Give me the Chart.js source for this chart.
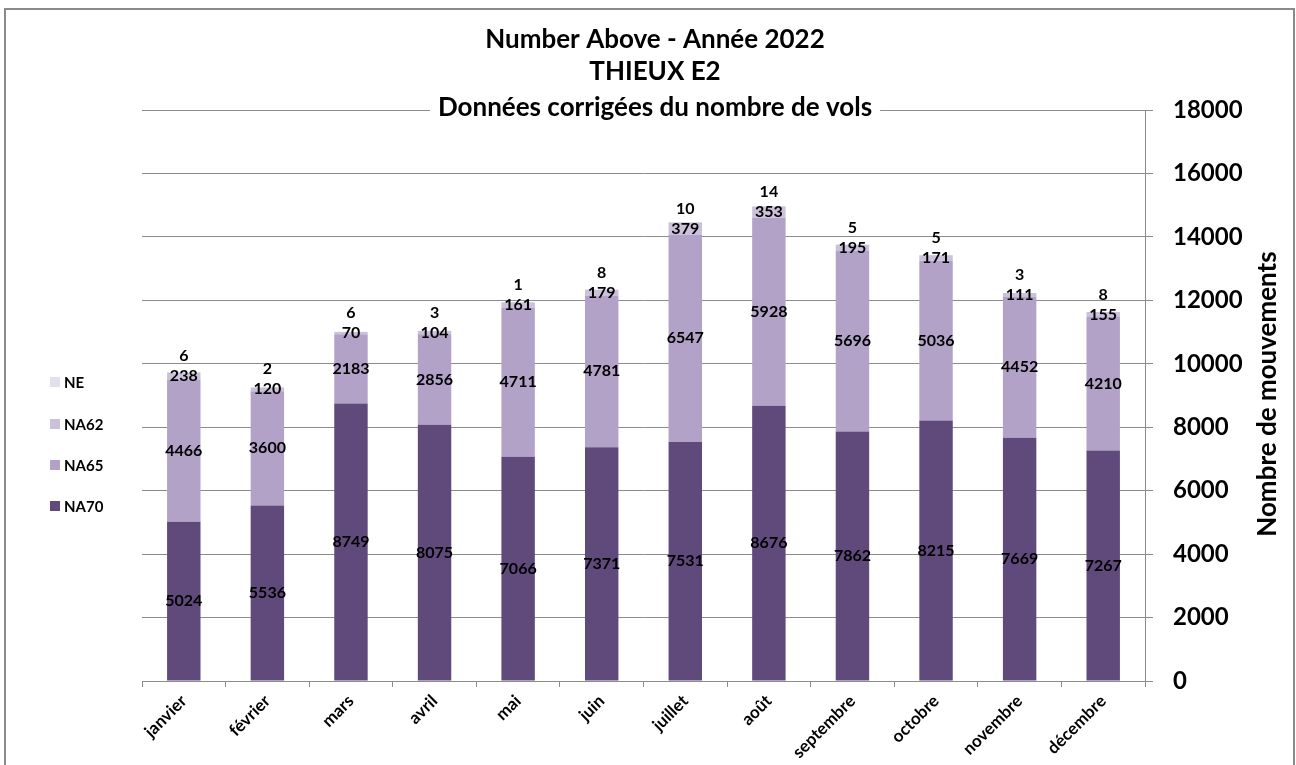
<!DOCTYPE html>
<html><head><meta charset="utf-8">
<script src="https://cdn.jsdelivr.net/npm/chart.js@4/dist/chart.umd.min.js"></script>
<style>html,body{margin:0;padding:0;background:#fff}#wrap{width:1296px;height:765px;position:relative}canvas{display:block}</style>
</head><body><div id="wrap"><canvas id="c" width="1296" height="765"></canvas></div>
<script>
const months = ['janvier','février','mars','avril','mai','juin','juillet','août','septembre','octobre','novembre','décembre'];
const NA70 = [5024, 5536, 8749, 8075, 7066, 7371, 7531, 8676, 7862, 8215, 7669, 7267];
const NA65 = [4466, 3600, 2183, 2856, 4711, 4781, 6547, 5928, 5696, 5036, 4452, 4210];
const NA62 = [238, 120, 70, 104, 161, 179, 379, 353, 195, 171, 111, 155];
const NE = [6, 2, 6, 3, 1, 8, 10, 14, 5, 5, 3, 8];
const titleLines = ['Number Above - Année 2022', 'THIEUX E2', 'Données corrigées du nombre de vols'];
const yAxisTitle = 'Nombre de mouvements';
const yMin = 0, yMax = 18000, yStep = 2000;

const FONT = 'Lato, "Open Sans", sans-serif';
const colors = {NA70:'#5f4a7b', NA65:'#b3a2c7', NA62:'#ccc1da', NE:'#e4dfec'};
const legendOrder = ['NE','NA62','NA65','NA70'];
const gridColor = '#8c8c8c';

const decor = {
  id:'decor',
  beforeDraw(chart){
    const ctx = chart.ctx;
    ctx.save();
    ctx.fillStyle = '#fff';
    ctx.fillRect(0,0,chart.width,chart.height);
    ctx.strokeStyle = '#8a8a8a';
    ctx.lineWidth = 2;
    ctx.strokeRect(5, 9, 1289, 800);
    ctx.restore();
  },
  afterDatasetsDraw(chart){
    const ctx = chart.ctx;
    ctx.save();
    ctx.fillStyle = '#000';
    ctx.font = 'bold 16px ' + FONT;
    ctx.textAlign = 'center';
    ctx.textBaseline = 'middle';
    const na62Centers = [];
    chart.data.datasets.forEach((ds, di) => {
      const meta = chart.getDatasetMeta(di);
      meta.data.forEach((bar, i) => {
        const v = ds.data[i];
        let y;
        if (ds.label === 'NE') {
          y = na62Centers[i] - 20;
        } else {
          y = (bar.y + bar.base) / 2;
          if (ds.label === 'NA62') na62Centers[i] = y;
        }
        ctx.fillText(String(v), bar.x, y);
      });
    });
    ctx.restore();
  },
  afterDraw(chart){
    const ctx = chart.ctx;
    ctx.save();
    ctx.font = 'bold 26px ' + FONT;
    ctx.textAlign = 'center';
    ctx.textBaseline = 'middle';
    const ys = [40, 72, 108];
    const cx = 655;
    titleLines.forEach((t, i) => {
      if (i === 2) {
        const w = ctx.measureText(t).width;
        ctx.fillStyle = '#fff';
        ctx.fillRect(cx - w/2 - 8, ys[i] - 15, w + 16, 30);
      }
      ctx.fillStyle = '#000';
      ctx.fillText(t, cx, ys[i]);
    });
    ctx.save();
    ctx.translate(1268, 394);
    ctx.rotate(-Math.PI/2);
    ctx.fillText(yAxisTitle, 0, 0);
    ctx.restore();
    ctx.font = 'bold 15px ' + FONT;
    ctx.textAlign = 'left';
    const ly = [382, 424, 465, 506];
    legendOrder.forEach((name, i) => {
      ctx.fillStyle = colors[name];
      ctx.fillRect(50, ly[i] - 5, 10, 10);
      ctx.fillStyle = '#000';
      ctx.fillText(name, 64, ly[i] + 1);
    });
    ctx.restore();
  }
};

new Chart(document.getElementById('c'), {
  type: 'bar',
  data: {
    labels: months,
    datasets: [
      {label:'NA70', data:NA70, backgroundColor:colors.NA70},
      {label:'NA65', data:NA65, backgroundColor:colors.NA65},
      {label:'NA62', data:NA62, backgroundColor:colors.NA62},
      {label:'NE', data:NE, backgroundColor:colors.NE}
    ]
  },
  options: {
    responsive: false,
    animation: false,
    devicePixelRatio: 1,
    layout: {padding: {left:142, top:110, right:0, bottom:0}},
    datasets: {bar: {barPercentage:0.4, categoryPercentage:1, borderWidth:0}},
    plugins: {legend:{display:false}, title:{display:false}, tooltip:{enabled:false}},
    scales: {
      x: {
        stacked: true,
        grid: {display:true, drawOnChartArea:false, offset:true, tickLength:6, color:gridColor},
        border: {display:true, color:gridColor, width:1},
        ticks: {maxRotation:45, minRotation:45, color:'#000', padding:4, font:{family:FONT, size:17, weight:'bold'}},
        afterFit(s){ s.height = 84; }
      },
      y: {
        stacked: true,
        position: 'right',
        min: yMin, max: yMax,
        grid: {color:gridColor, tickLength:8},
        border: {display:true, color:gridColor, width:1},
        ticks: {stepSize:yStep, color:'#000', padding:20, font:{family:FONT, size:24, weight:'bold'},
                callback: v => String(v)},
        afterFit(s){ s.width = 151; }
      }
    }
  },
  plugins: [decor]
});
</script>
</body></html>
